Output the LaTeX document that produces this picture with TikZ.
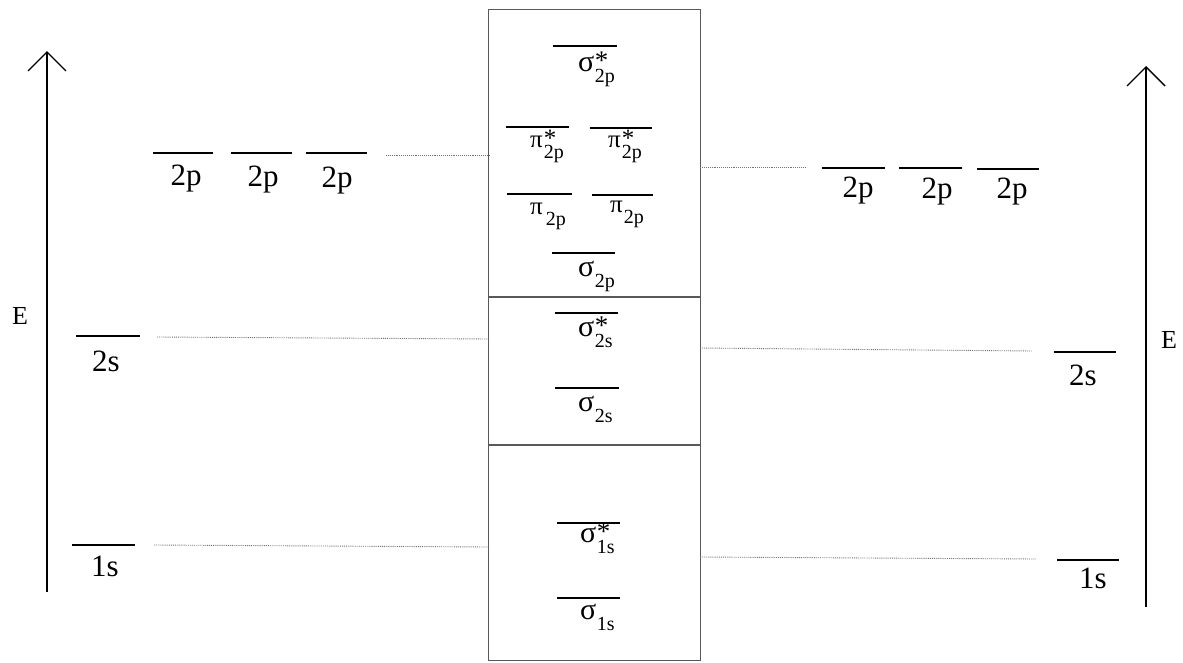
\documentclass[tikz,border=0pt]{standalone}
\usepackage{fontspec}
\setmainfont{Liberation Serif}
\usetikzlibrary{arrows.meta}
\newcommand\orbl[3]{\mbox{\fontsize{30}{30}\selectfont #1\kern0.5pt\rlap{\raisebox{1.5pt}{\fontsize{27}{27}\selectfont #2}}\raisebox{-11pt}{\fontsize{20}{20}\selectfont #3}}}
\newcommand\piorb[3]{\mbox{\fontsize{25}{25}\selectfont #1\kern1pt\rlap{\raisebox{1pt}{\fontsize{25}{25}\selectfont #2}}\raisebox{-11pt}{\fontsize{20}{20}\selectfont #3}}}
\begin{document}
\begin{tikzpicture}[x=1pt,y=-1pt,
  lvl/.style={draw=none,inner sep=0pt,outer sep=0pt,minimum height=0pt},
  lvlline/.style={line width=2pt,black},
  conn/.style={line width=0.9pt,black!55,densely dotted},
  boxline/.style={line width=1.3pt,black!65},
  axisarrow/.style={line width=1.8pt,-{Straight Barb[length=19pt,width=38pt,line width=1.4pt]}},
  aolab/.style={inner sep=0pt,anchor=base,font=\fontsize{31}{31}\selectfont},
  elab/.style={inner sep=0pt,anchor=base,font=\fontsize{26}{26}\selectfont},
  molab/.style={inner sep=0pt,anchor=base west}]
\useasboundingbox (0,0) rectangle (1183,662);
\fill[white] (0,0) rectangle (1183,662);

% axes
\coordinate (axLb) at (47,592);
\coordinate (axLt) at (47,51);
\coordinate (axRb) at (1146,607);
\coordinate (axRt) at (1146,66);
\draw[axisarrow] (axLb) -- (axLt);
\draw[axisarrow] (axRb) -- (axRt);
\node[elab] (EL) at (20,324) {E};
\node[elab] (ER) at (1169,348) {E};

% MO box
\node[draw=none,inner sep=0pt,minimum width=211pt,minimum height=650pt] (mo) at (594.5,335) {};
\draw[boxline] (mo.north west) rectangle (mo.south east);
\coordinate (d1l) at (489,297); \coordinate (d1r) at (700,297);
\coordinate (d2l) at (489,445); \coordinate (d2r) at (700,445);
\draw[boxline] (d1l) -- (d1r);
\draw[boxline] (d2l) -- (d2r);

% atomic levels, left
\node[lvl,minimum width=60pt] (a2p1) at (183,153) {};
\node[lvl,minimum width=61pt] (a2p2) at (261.5,153) {};
\node[lvl,minimum width=61pt] (a2p3) at (336.5,153) {};
\node[lvl,minimum width=64pt] (a2s) at (108,336) {};
\node[lvl,minimum width=63pt] (a1s) at (103.5,545) {};
% atomic levels, right
\node[lvl,minimum width=63pt] (b2p1) at (853.5,168) {};
\node[lvl,minimum width=63pt] (b2p2) at (930.5,168) {};
\node[lvl,minimum width=62pt] (b2p3) at (1008,169) {};
\node[lvl,minimum width=62pt] (b2s) at (1085,352) {};
\node[lvl,minimum width=62pt] (b1s) at (1088,560) {};
% molecular levels
\node[lvl,minimum width=64pt] (s2ps) at (585,46) {};
\node[lvl,minimum width=63pt] (p2ps1) at (537.5,127) {};
\node[lvl,minimum width=62pt] (p2ps2) at (621,128) {};
\node[lvl,minimum width=65pt] (p2p1) at (539.5,194) {};
\node[lvl,minimum width=61pt] (p2p2) at (622.5,195) {};
\node[lvl,minimum width=63pt] (s2p) at (583.5,253) {};
\node[lvl,minimum width=63pt] (s2ss) at (586.5,313) {};
\node[lvl,minimum width=64pt] (s2s) at (587,388) {};
\node[lvl,minimum width=63pt] (s1ss) at (588.5,523) {};
\node[lvl,minimum width=63pt] (s1s) at (588.5,598) {};

\foreach \n in {a2p1,a2p2,a2p3,a2s,a1s,b2p1,b2p2,b2p3,b2s,b1s,s2ps,p2ps1,p2ps2,p2p1,p2p2,s2p,s2ss,s2s,s1ss,s1s}
  \draw[lvlline] (\n.west) -- (\n.east);

% AO labels
\node[aolab] (ta2p1) at (186,185) {2p};
\node[aolab] (ta2p2) at (263,186) {2p};
\node[aolab] (ta2p3) at (337,187) {2p};
\node[aolab] (ta2s) at (106,371) {2s};
\node[aolab] (ta1s) at (105,576) {1s};
\node[aolab] (tb2p1) at (858,197) {2p};
\node[aolab] (tb2p2) at (937,198) {2p};
\node[aolab] (tb2p3) at (1012,198) {2p};
\node[aolab] (tb2s) at (1083,385) {2s};
\node[aolab] (tb1s) at (1093,588) {1s};

% MO labels
\node[molab] (ts2ps) at (578,71) {\orbl{σ}{*}{2p}};
\node[molab] (tp2ps1) at (530,147) {\piorb{π}{*}{2p}};
\node[molab] (tp2ps2) at (608,147) {\piorb{π}{*}{2p}};
\node[molab] (tp2p1) at (530,214) {\piorb{π}{}{\kern2pt 2p}};
\node[molab] (tp2p2) at (610,212) {\piorb{π}{}{2p}};
\node[molab] (ts2p) at (578,276) {\orbl{σ}{}{2p}};
\node[molab] (ts2ss) at (578,336) {\orbl{σ}{*}{2s}};
\node[molab] (ts2s) at (578,411) {\orbl{σ}{}{2s}};
\node[molab] (ts1ss) at (580,542) {\orbl{σ}{*}{1s}};
\node[molab] (ts1s) at (580,619) {\orbl{σ}{}{1s}};

% connectors
\coordinate (cL2p) at (386,155);
\coordinate (cL2s) at (157,337);
\coordinate (cL1s) at (154,545);
\coordinate (cR2p) at (805,167);
\coordinate (cR2s) at (1032,351);
\coordinate (cR1s) at (1036,559);
\draw[conn] (cL2p) -- (cL2p -| mo.west);
\draw[conn] (cL2s) -- (mo.west |- 0,339);
\draw[conn] (cL1s) -- (mo.west |- 0,547);
\draw[conn] (mo.east |- 0,167) -- (cR2p);
\draw[conn] (mo.east |- 0,348) -- (cR2s);
\draw[conn] (mo.east |- 0,557) -- (cR1s);
\end{tikzpicture}
\end{document}
